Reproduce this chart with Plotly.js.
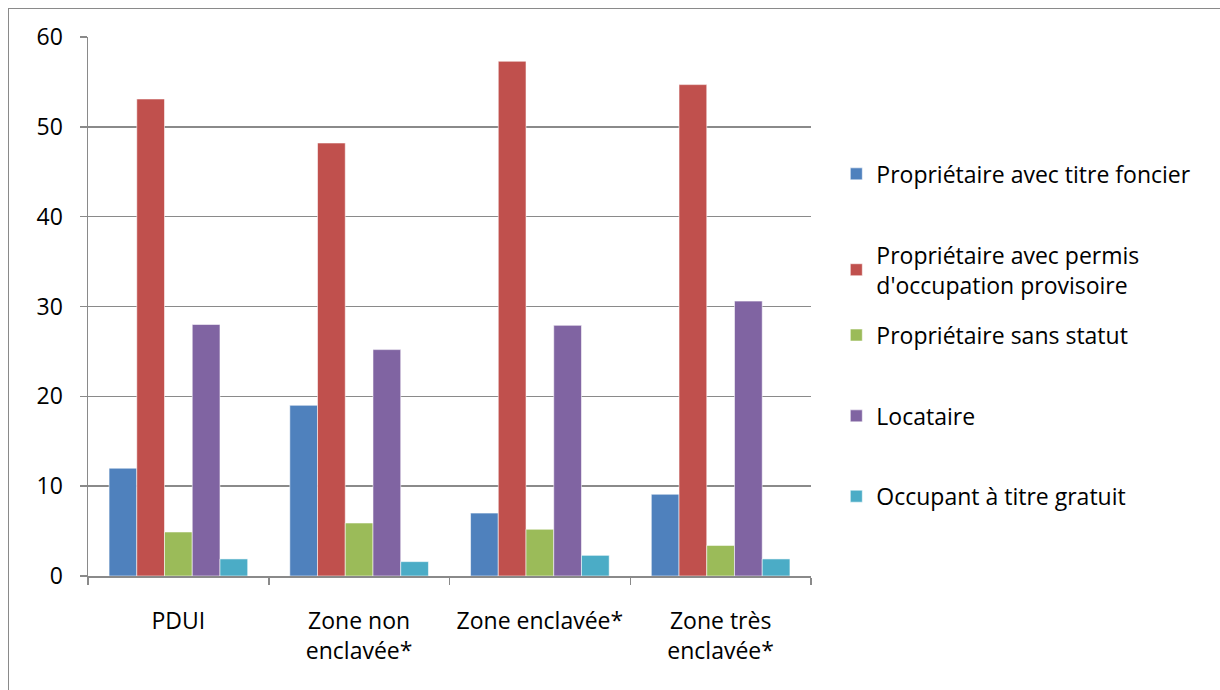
<!DOCTYPE html>
<html>
<head>
<meta charset="utf-8">
<script src="https://cdn.plot.ly/plotly-3.0.1.min.js"></script>
<style>
  html, body { margin: 0; padding: 0; background: #fff; overflow: hidden; }
  #frame { position: absolute; left: 8px; top: 8px; width: 1400px; height: 900px; border-left: 1.5px solid #8a8a8a; border-top: 1.5px solid #8a8a8a; pointer-events: none; z-index: 5; }
  #chart { position: absolute; left: 0; top: 0; width: 1220px; height: 690px; }
</style>
</head>
<body>
<div id="chart"></div>
<div id="frame"></div>
<script>
const categories = ["PDUI", "Zone non<br>enclavée*", "Zone enclavée*", "Zone très<br>enclavée*"];
const seriesNames = [
  "Propriétaire avec titre foncier",
  "Propriétaire avec permis<br>d'occupation provisoire",
  "Propriétaire sans statut",
  "Locataire",
  "Occupant à titre gratuit"
];
const titreFoncier   = [12.0, 19.0, 7.0, 9.1];
const permisProvisoire = [53.1, 48.2, 57.3, 54.7];
const sansStatut     = [4.9, 5.9, 5.2, 3.4];
const locataire      = [28.0, 25.2, 27.9, 30.6];
const gratuit        = [1.9, 1.6, 2.3, 1.9];
const yTicks = [0, 10, 20, 30, 40, 50, 60];

const colors = ["#4F81BD", "#C0504D", "#9BBB59", "#8064A2", "#4BACC6"];
const values = [titreFoncier, permisProvisoire, sansStatut, locataire, gratuit];
const legendIds = ["legend", "legend2", "legend3", "legend4", "legend5"];
const legendY = [0.746, 0.568, 0.447, 0.297, 0.148];

const FONT = "Open Sans, Noto Sans, sans-serif";
const FS = 23;

const traces = values.map((v, i) => ({
  type: "bar",
  x: categories,
  y: v,
  name: seriesNames[i],
  legend: legendIds[i],
  marker: { color: colors[i], line: { color: "rgba(255,255,255,0.55)", width: 1 } },
  hoverinfo: "x+y+name"
}));

const layout = {
  width: 1220, height: 690,
  paper_bgcolor: "#ffffff", plot_bgcolor: "#ffffff",
  margin: { l: 88, r: 409, t: 37, b: 114 },
  barmode: "group",
  bargap: 0.233,
  bargroupgap: 0,
  font: { family: FONT, size: FS, color: "#000" },
  xaxis: {
    type: "category",
    showline: true, linecolor: "#8a8a8a", linewidth: 1.5,
    ticks: "outside", tickson: "boundaries", ticklen: 7, tickcolor: "#8a8a8a", tickwidth: 1.5,
    tickfont: { family: FONT, size: FS, color: "#000" },
    ticklabelstandoff: 24,
    showgrid: false
  },
  yaxis: {
    range: [0, 60],
    tickvals: yTicks,
    showline: true, linecolor: "#8a8a8a", linewidth: 1.5,
    ticks: "outside", ticklen: 7, tickcolor: "#8a8a8a", tickwidth: 1.5,
    showgrid: true, gridcolor: "#8a8a8a", gridwidth: 1.5,
    zeroline: false,
    tickfont: { family: FONT, size: FS, color: "#000" },
    ticklabelstandoff: 12
  },
  showlegend: true
};

legendIds.forEach((id, i) => {
  layout[id] = {
    x: 1.035, xanchor: "left",
    y: legendY[i], yanchor: "middle",
    xref: "paper", yref: "paper",
    bgcolor: "rgba(0,0,0,0)",
    borderwidth: 0,
    font: { family: FONT, size: FS, color: "#000" },
    itemclick: false, itemdoubleclick: false
  };
});

Plotly.newPlot("chart", traces, layout, { displayModeBar: false, staticPlot: true });
</script>
</body>
</html>
